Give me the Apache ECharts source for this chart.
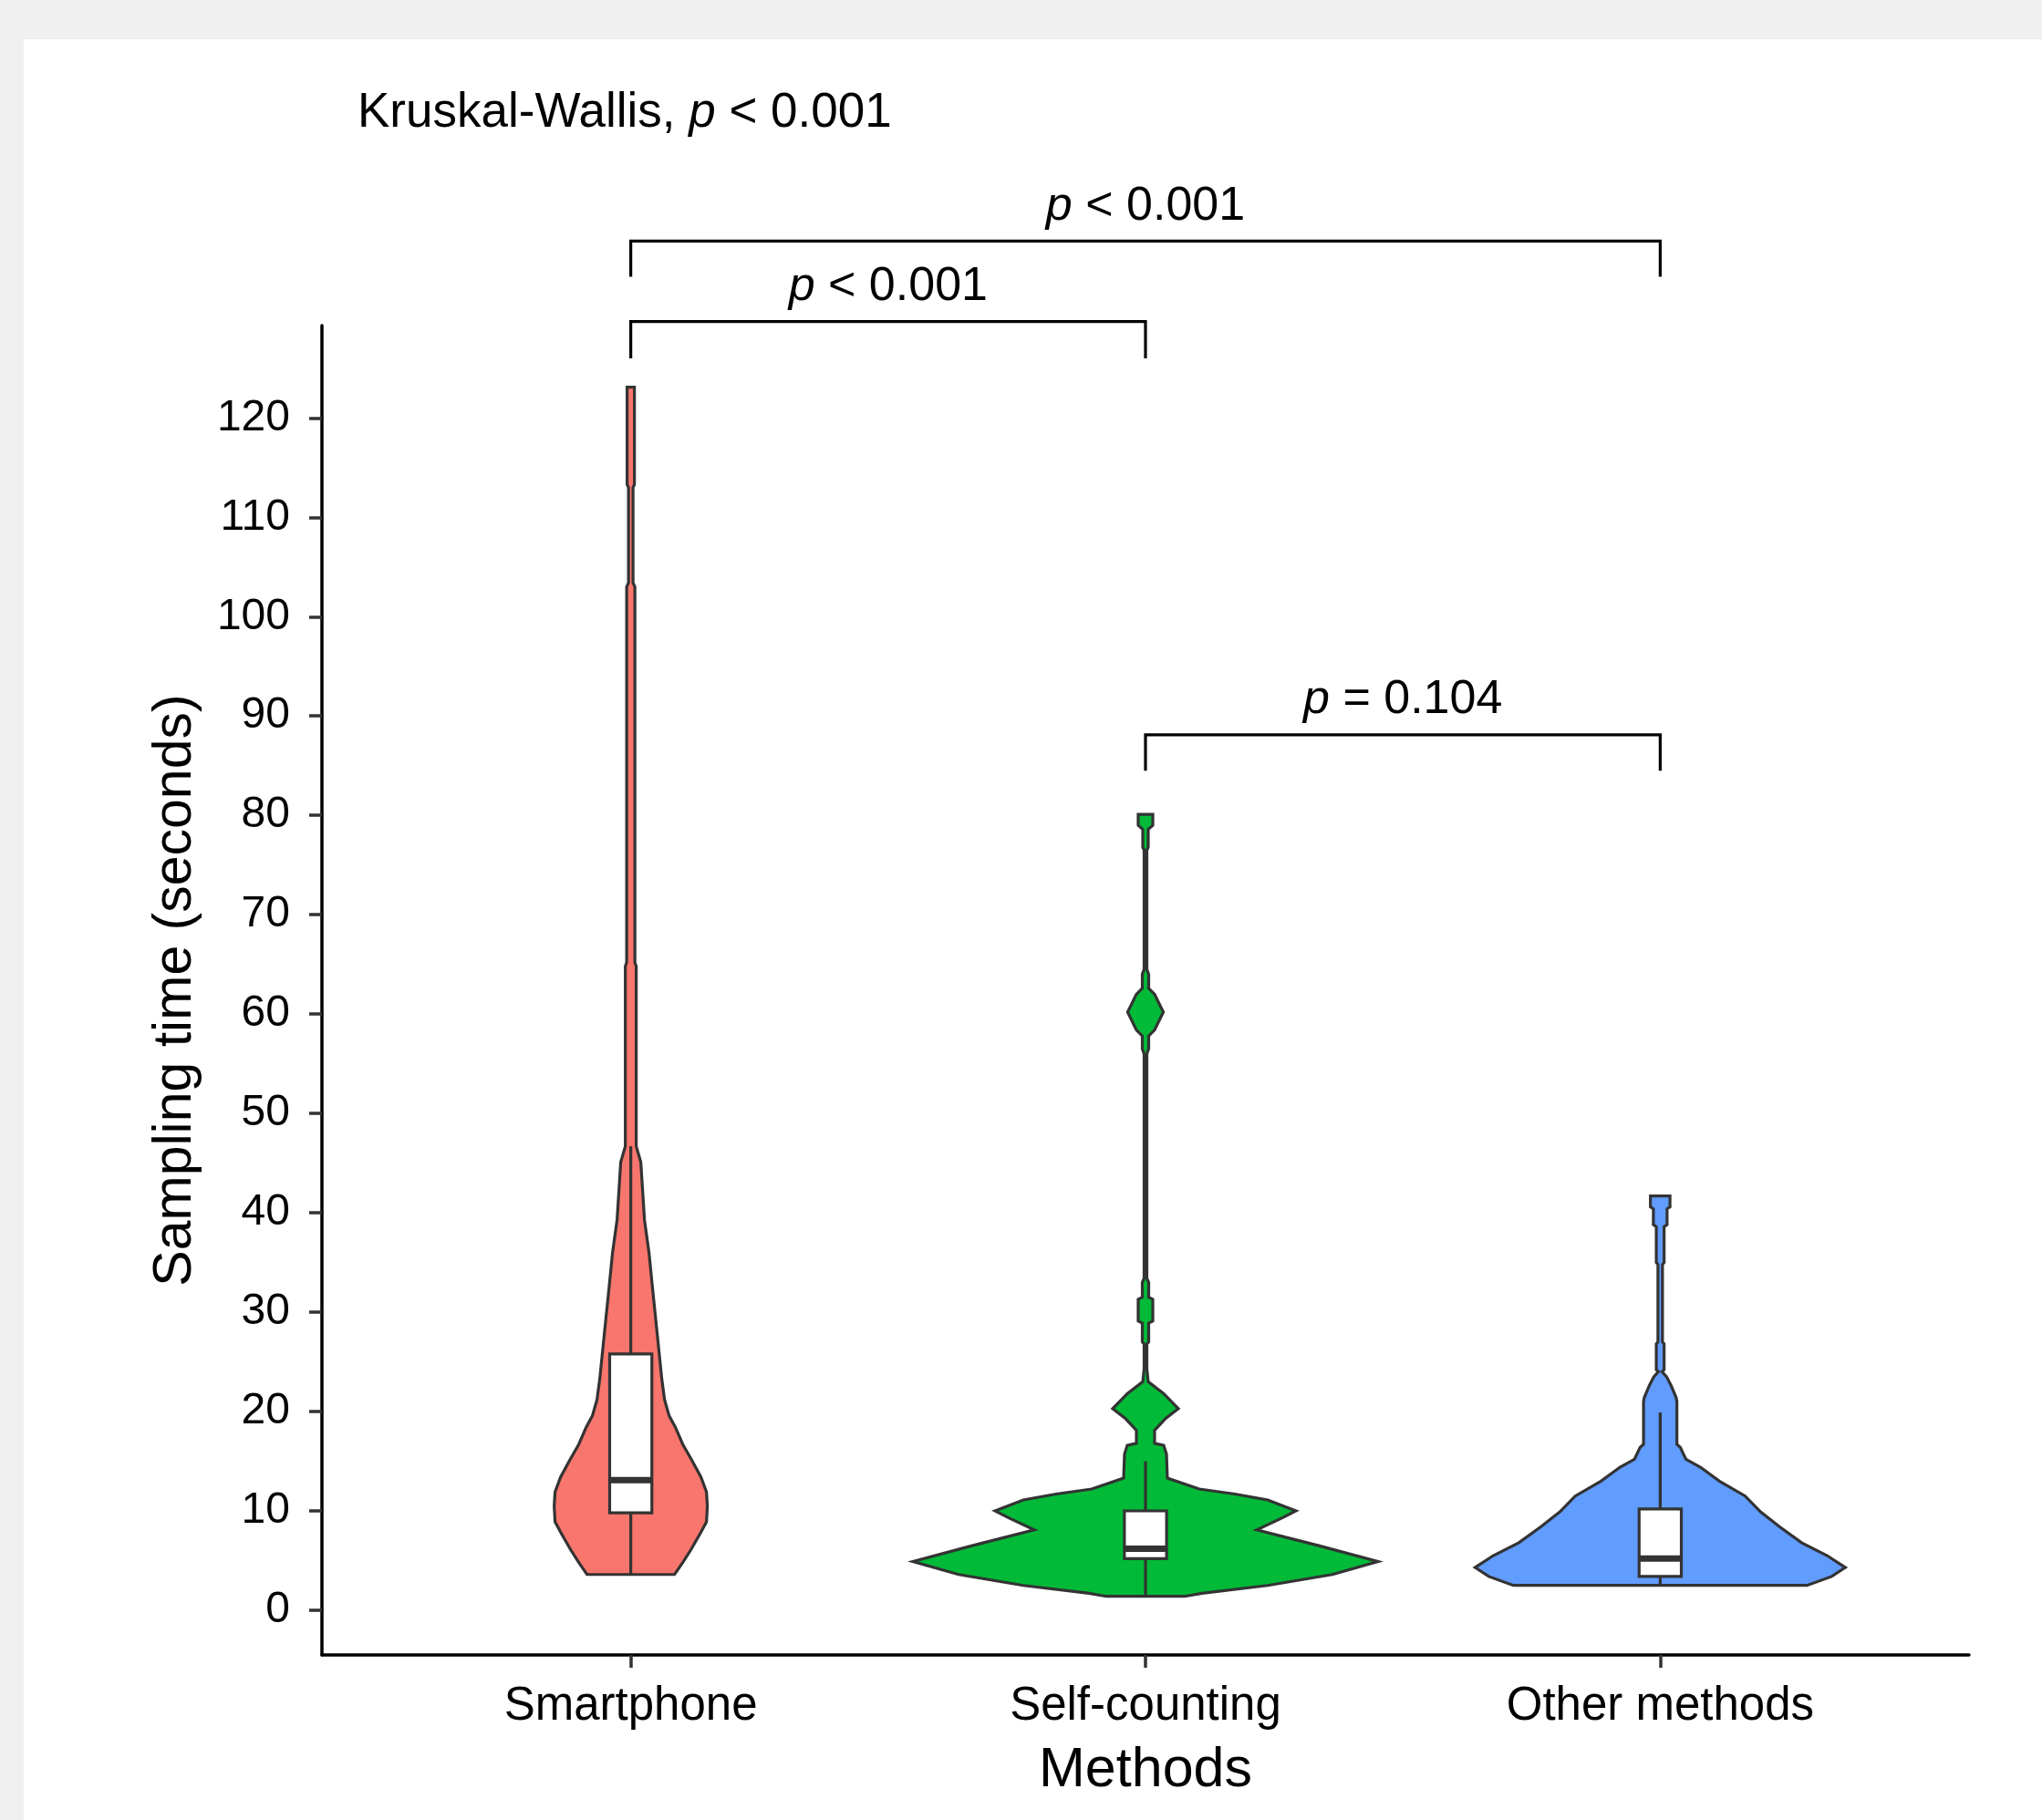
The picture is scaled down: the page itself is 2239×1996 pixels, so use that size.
<!DOCTYPE html>
<html>
<head>
<meta charset="utf-8">
<script src="https://cdn.jsdelivr.net/npm/echarts@6/dist/echarts.min.js"></script>
<style>
  html, body { margin: 0; padding: 0; background: #f0f0f0; }
  #chart { width: 2239px; height: 1996px; }
</style>
</head>
<body>
<div id="chart"></div>
<script>
// ---------------- data ----------------
const CATEGORIES = ['Smartphone', 'Self-counting', 'Other methods'];
const Y_TICKS = [0, 10, 20, 30, 40, 50, 60, 70, 80, 90, 100, 110, 120];

// violin outlines: [value (seconds), half-width (x-axis units)]
const VIOLIN_SMARTPHONE = [
  [123.1, 0.0071], [113.3, 0.0071], [113.0, 0.0044], [103.4, 0.0044], [103.0, 0.0080],
  [65.2, 0.0080], [64.8, 0.0106], [46.7, 0.0106], [45.1, 0.0195], [39.3, 0.0266],
  [36.0, 0.0354], [32.3, 0.0425], [27.8, 0.0514], [23.3, 0.0602], [21.2, 0.0656],
  [19.6, 0.0744], [18.4, 0.0868], [16.7, 0.1010], [15.1, 0.1187], [13.4, 0.1364],
  [11.9, 0.1471], [10.5, 0.1488], [8.9, 0.1471], [7.7, 0.1347], [6.1, 0.1169],
  [4.8, 0.1010], [3.6, 0.0850]
];
const VIOLIN_SELF_COUNTING = [
  [80.1, 0.0142], [79.0, 0.0142], [78.6, 0.0053], [76.8, 0.0053], [76.5, 0.0027],
  [64.5, 0.0027], [64.0, 0.0062], [62.6, 0.0062], [62.0, 0.0177], [60.2, 0.0347],
  [58.4, 0.0177], [57.8, 0.0062], [56.5, 0.0062], [56.0, 0.0027], [33.4, 0.0027],
  [33.0, 0.0062], [31.5, 0.0062], [31.3, 0.0142], [29.1, 0.0142], [28.9, 0.0062],
  [27.0, 0.0062], [26.8, 0.0027], [24.3, 0.0027], [23.0, 0.0053], [21.8, 0.0354],
  [20.3, 0.0638], [19.3, 0.0390], [18.1, 0.0177], [16.8, 0.0177], [16.6, 0.0354],
  [15.7, 0.0408], [13.3, 0.0425], [12.2, 0.1045], [11.7, 0.1736], [11.1, 0.2374],
  [10.0, 0.2923], [9.3, 0.2658], [8.1, 0.2162], [6.5, 0.3366], [4.9, 0.4518],
  [3.6, 0.3632], [2.5, 0.2374], [1.7, 0.1098], [1.4, 0.0762]
];
const VIOLIN_OTHER = [
  [41.7, 0.0190], [40.6, 0.0190], [40.4, 0.0133], [38.8, 0.0133], [38.6, 0.0076],
  [35.0, 0.0076], [34.8, 0.0044], [27.0, 0.0044], [26.8, 0.0076], [24.2, 0.0076],
  [24.0, 0.0035], [23.5, 0.0124], [22.6, 0.0213], [21.4, 0.0310], [21.0, 0.0324],
  [16.7, 0.0324], [16.4, 0.0390], [15.2, 0.0500], [14.4, 0.0780], [13.0, 0.1150],
  [11.5, 0.1650], [9.9, 0.1950], [8.4, 0.2321], [6.8, 0.2746], [5.5, 0.3242],
  [4.3, 0.3597], [3.4, 0.3331], [2.5, 0.2853]
];

// box plot statistics per category
const BOX_LOW    = [3.6, 1.4, 2.5];
const BOX_Q1     = [9.8, 5.2, 3.4];
const BOX_MEDIAN = [13.1, 6.2, 5.2];
const BOX_Q3     = [25.8, 10.0, 10.2];
const BOX_HIGH   = [46.7, 15.0, 19.9];

// pairwise comparison brackets
const BRACKET_FROM = [1, 1, 2];
const BRACKET_TO   = [3, 2, 3];
const BRACKET_Y    = [137.8, 129.7, 88.1];
const BRACKET_TIP  = [134.2, 126.0, 84.5];
const BRACKET_P    = ['< 0.001', '< 0.001', '= 0.104'];
const KW_P = '< 0.001';

// ---------------- styles ----------------
const FILLS = ['#F8766D', '#00BA38', '#619CFF'];
const OUTLINE = '#333333';
const FONT = '"Liberation Sans", Arial, Helvetica, sans-serif';
const BOX_HALF = 0.041;

const VIOLINS = [VIOLIN_SMARTPHONE, VIOLIN_SELF_COUNTING, VIOLIN_OTHER];

function renderViolin(params, api) {
  const i = params.dataIndex;
  const cx = api.value(0);
  const prof = VIOLINS[i];
  const pts = [];
  for (let k = 0; k < prof.length; k++) pts.push(api.coord([cx + prof[k][1], prof[k][0]]));
  for (let k = prof.length - 1; k >= 0; k--) pts.push(api.coord([cx - prof[k][1], prof[k][0]]));
  const top = api.coord([cx, BOX_Q3[i]]);
  const hi = api.coord([cx, BOX_HIGH[i]]);
  const q1 = api.coord([cx, BOX_Q1[i]]);
  const lo = api.coord([cx, BOX_LOW[i]]);
  const bl = api.coord([cx - BOX_HALF, BOX_Q3[i]]);
  const br = api.coord([cx + BOX_HALF, BOX_Q1[i]]);
  const ml = api.coord([cx - BOX_HALF, BOX_MEDIAN[i]]);
  const mr = api.coord([cx + BOX_HALF, BOX_MEDIAN[i]]);
  return {
    type: 'group',
    children: [
      { type: 'polygon', shape: { points: pts },
        style: { fill: FILLS[i], stroke: OUTLINE, lineWidth: 3.2, lineJoin: 'miter' } },
      { type: 'line', shape: { x1: top[0], y1: top[1], x2: hi[0], y2: hi[1] },
        style: { stroke: OUTLINE, lineWidth: 3.2 } },
      { type: 'line', shape: { x1: q1[0], y1: q1[1], x2: lo[0], y2: lo[1] },
        style: { stroke: OUTLINE, lineWidth: 3.2 } },
      { type: 'rect', shape: { x: bl[0], y: bl[1], width: br[0] - bl[0], height: br[1] - bl[1] },
        style: { fill: '#ffffff', stroke: OUTLINE, lineWidth: 3.2 } },
      { type: 'line', shape: { x1: ml[0], y1: ml[1], x2: mr[0], y2: mr[1] },
        style: { stroke: OUTLINE, lineWidth: 7 } }
    ]
  };
}

function renderBracket(params, api) {
  const i = params.dataIndex;
  const a1 = api.coord([BRACKET_FROM[i], BRACKET_TIP[i]]);
  const a2 = api.coord([BRACKET_FROM[i], BRACKET_Y[i]]);
  const b2 = api.coord([BRACKET_TO[i], BRACKET_Y[i]]);
  const b1 = api.coord([BRACKET_TO[i], BRACKET_TIP[i]]);
  return {
    type: 'group',
    children: [
      { type: 'polyline', shape: { points: [a1, a2, b2, b1] },
        style: { stroke: '#000', lineWidth: 3.2, fill: null } },
      { type: 'text', x: (a2[0] + b2[0]) / 2, y: a2[1] - 38,
        style: { text: '{i|p} ' + BRACKET_P[i], fontSize: 52, fontFamily: FONT, fill: '#000',
          align: 'center', verticalAlign: 'middle',
          rich: { i: { fontStyle: 'italic', fontSize: 52, fontFamily: FONT, fill: '#000' } } } }
    ]
  };
}

const chart = echarts.init(document.getElementById('chart'), null, { renderer: 'canvas' });
chart.setOption({
  animation: false,
  backgroundColor: '#f0f0f0',
  graphic: [
    { type: 'rect', z: -10, silent: true, shape: { x: 26, y: 43, width: 2213, height: 1953 },
      style: { fill: '#ffffff' } },
    { type: 'text', z: 10, x: 392, y: 124,
      style: { text: 'Kruskal-Wallis, {i|p} ' + KW_P, fontSize: 53, fontFamily: FONT, fill: '#000',
        verticalAlign: 'middle',
        rich: { i: { fontStyle: 'italic', fontSize: 53, fontFamily: FONT, fill: '#000' } } } }
  ],
  grid: { left: 353, right: 80, top: 357, bottom: 181, containLabel: false },
  xAxis: {
    type: 'value', min: 0.4, max: 3.6,
    splitLine: { show: false },
    axisLine: { show: true, onZero: false, lineStyle: { color: '#000', width: 3.5 } },
    axisTick: { show: true, customValues: [1, 2, 3], length: 14, lineStyle: { color: '#333', width: 3.5 } },
    axisLabel: { customValues: [1, 2, 3], formatter: v => CATEGORIES[Math.round(v) - 1],
      fontSize: 51, fontFamily: FONT, color: '#000', margin: 31 },
    name: 'Methods', nameLocation: 'middle', nameGap: 97,
    nameTextStyle: { fontSize: 61, fontFamily: FONT, color: '#000' }
  },
  yAxis: {
    type: 'value', min: -4.5, max: 129.3,
    splitLine: { show: false },
    axisLine: { show: true, onZero: false, lineStyle: { color: '#000', width: 3.5 } },
    axisTick: { show: true, customValues: Y_TICKS, length: 14, lineStyle: { color: '#333', width: 3.5 } },
    axisLabel: { customValues: Y_TICKS, fontSize: 48, fontFamily: FONT, color: '#000', margin: 35 },
    name: 'Sampling time (seconds)', nameLocation: 'middle', nameGap: 131,
    nameTextStyle: { fontSize: 59, fontFamily: FONT, color: '#000' }
  },
  series: [
    { type: 'custom', name: 'violins', clip: false, renderItem: renderViolin,
      data: CATEGORIES.map((c, i) => [i + 1, BOX_MEDIAN[i]]), z: 2 },
    { type: 'custom', name: 'brackets', clip: false, renderItem: renderBracket,
      data: BRACKET_FROM.map((f, i) => [(f + BRACKET_TO[i]) / 2, BRACKET_Y[i]]), z: 3 }
  ]
});
</script>
</body>
</html>
